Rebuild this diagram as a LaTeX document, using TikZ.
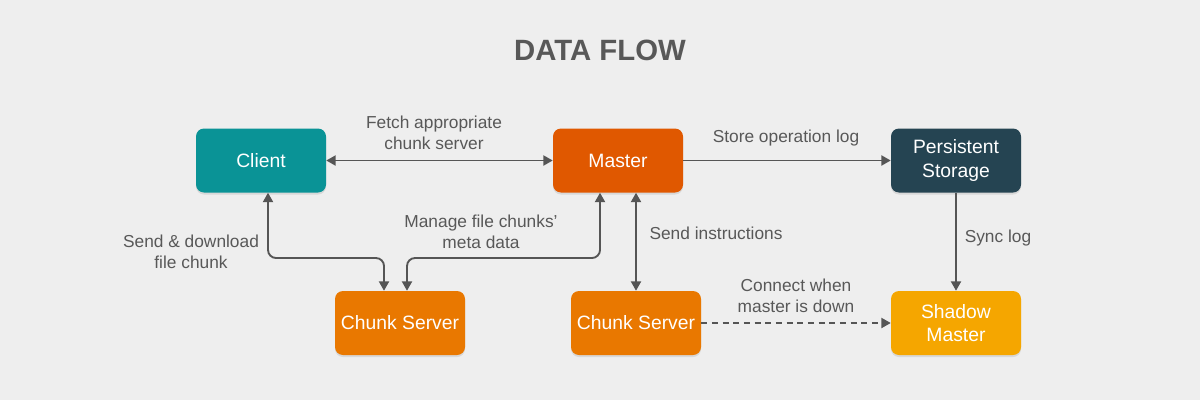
\documentclass[tikz,border=0pt]{standalone}
\usepackage{fontspec}
\setmainfont{Liberation Sans}
\usetikzlibrary{arrows.meta,shadows}
\definecolor{bg}{HTML}{EEEEEE}
\definecolor{clientteal}{HTML}{0A9396}
\definecolor{masterorange}{HTML}{E05800}
\definecolor{chunkorange}{HTML}{E97800}
\definecolor{shadowyellow}{HTML}{F5A600}
\definecolor{storageblue}{HTML}{254452}
\definecolor{textgray}{HTML}{585858}
\definecolor{linegray}{HTML}{555555}
\newcommand{\boxfont}{\fontsize{14.5}{17.5}\selectfont}
\newcommand{\lblfont}{\fontsize{13}{15.5}\selectfont}

\begin{document}
\begin{tikzpicture}[x=0.75pt, y=-0.75pt,
    box/.style={rounded corners=6pt, minimum width=97.5pt, minimum height=48pt,
        text=white, align=center, font=\boxfont,
        drop shadow={shadow xshift=0pt, shadow yshift=-1.5pt, opacity=0.2}},
    lbl/.style={text=textgray, align=center, font=\lblfont},
    flow/.style={draw=linegray, line width=1.4pt, rounded corners=6pt},
    >={Triangle[length=7pt,width=7.5pt]}]
    \useasboundingbox[fill=bg] (0,0) rectangle (1200,400);

    \node (title) at (600,50) {\fontsize{22}{26}\selectfont\bfseries\color{textgray}DATA FLOW};

    % boxes
    \node (client) [box, fill=clientteal] at (261,160.5) {Client};
    \node (master) [box, fill=masterorange] at (618,160.5) {Master};
    \node (storage) [box, fill=storageblue] at (956,160.5) {Persistent\\Storage};
    \node (chunkA) [box, fill=chunkorange] at (400,323) {Chunk Server};
    \node (chunkB) [box, fill=chunkorange] at (636,323) {Chunk Server};
    \node (shadow) [box, fill=shadowyellow] at (956,323) {Shadow\\Master};

    % elbows
    \coordinate (elbowA) at (268,258);
    \coordinate (elbowB) at (600,258);

    % connectors
    \draw[flow, <->] (client) -- (master);
    \draw[flow, ->] (master) -- (storage);
    \draw[flow, ->] (storage) -- (shadow);
    \draw[flow, <->] (client.south -| elbowA) -- (elbowA) -| ([xshift=-12pt]chunkA.north);
    \draw[flow, <->] ([xshift=5.25pt]chunkA.north) |- (elbowB) -- (master.south -| elbowB);
    \draw[flow, <->] (master.south -| chunkB) -- (chunkB);
    \draw[flow, ->, dash pattern=on 4.5pt off 3.5pt] (chunkB) -- (shadow);

    % labels
    \node (fetch) [lbl] at (434,133) {Fetch appropriate\\chunk server};
    \node (store) [lbl] at (786,138) {Store operation log};
    \node (sync) [lbl] at (998,238) {Sync log};
    \node (sendrecv) [lbl] at (191,252) {Send \& download\\file chunk};
    \node (manage) [lbl] at (481,232) {Manage file chunks’\\meta data};
    \node (instr) [lbl] at (716,233) {Send instructions};
    \node (connect) [lbl] at (796,296) {Connect when\\master is down};
\end{tikzpicture}
\end{document}
